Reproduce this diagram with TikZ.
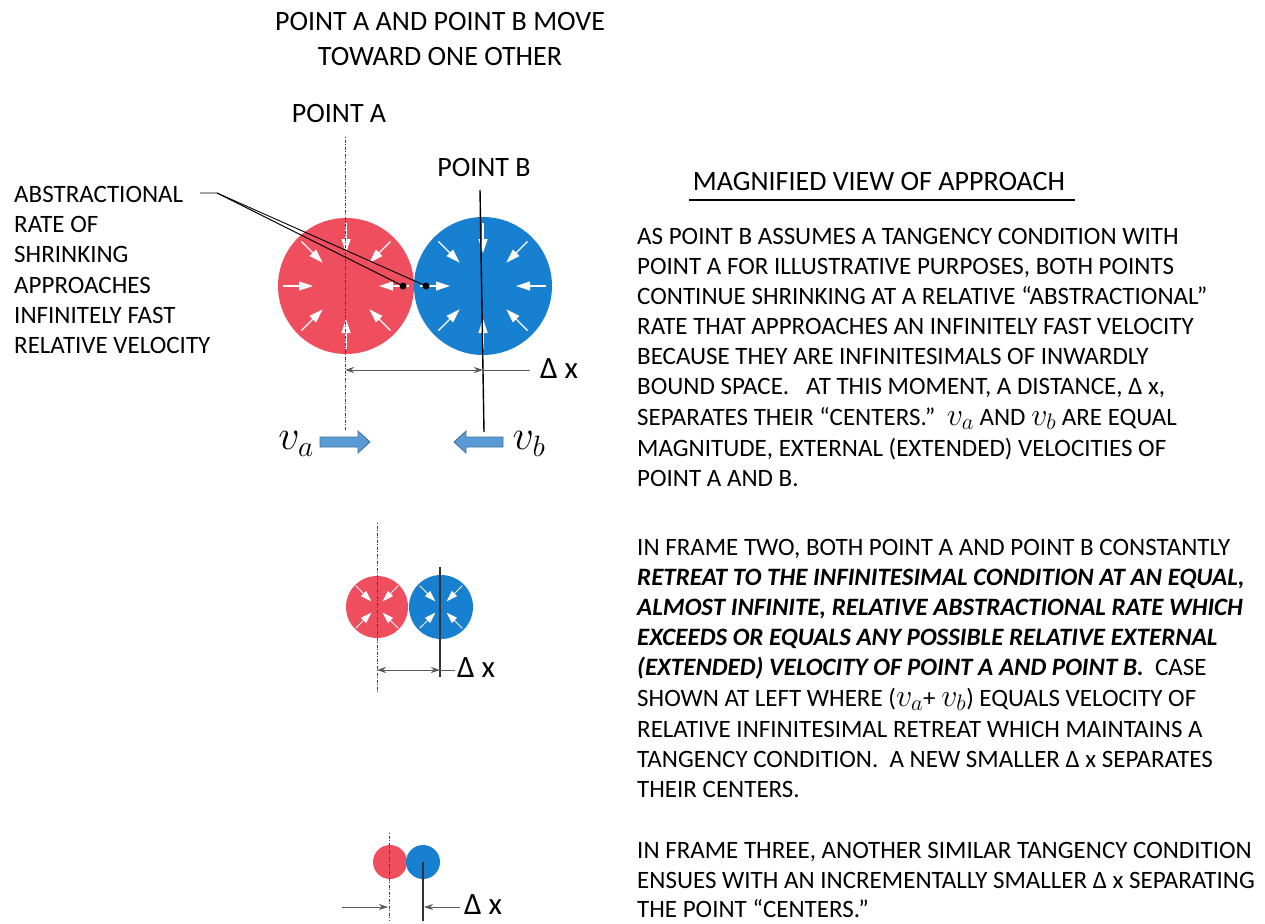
\documentclass[tikz,border=0pt]{standalone}
\usepackage{fix-cm}
\usepackage{fontspec}
\setmainfont{Carlito}
\usetikzlibrary{arrows.meta,calc}
\definecolor{ptred}{RGB}{239,78,95}
\definecolor{ptblue}{RGB}{24,128,208}
\definecolor{varrow}{RGB}{91,155,213}
\definecolor{varrowline}{RGB}{65,113,156}
\definecolor{dimgray}{RGB}{90,90,90}
\newcommand{\bm}[1]{{\fontsize{32}{28}\selectfont$#1$}}
\tikzset{
  txt/.style={anchor=base west, inner sep=0pt, font=\fontsize{25}{28}\selectfont},
  ctxt/.style={anchor=base, inner sep=0pt, font=\fontsize{28}{32}\selectfont},
  disk/.style={circle, inner sep=0pt, draw=none, minimum size=#1},
  inarrow/.style={white, line width=1.2pt, -{Triangle[width=9pt,length=14pt]}},
  smallinarrow/.style={white, line width=1pt, -{Triangle[width=7pt,length=11pt]}},
  dotline/.style={line width=0.7pt, black!75, dash pattern=on 1pt off 1.5pt on 3pt off 1.5pt},
  pointline/.style={line width=1.4pt, black},
  dimline/.style={line width=1pt, dimgray},
  dimarrows/.style={dimline, {Stealth[length=9pt,width=6pt]}-{Stealth[length=9pt,width=6pt]}},
  vel/.style={draw=varrowline, fill=varrow, line width=0.8pt, line join=miter},
  leader/.style={line width=0.9pt, black},
  bigmath/.style={inner sep=0pt, font=\fontsize{42}{44}\selectfont},
  dx/.style={anchor=west, inner sep=0pt, font=\fontsize{31}{34}\selectfont},
}
\begin{document}
\begin{tikzpicture}[x=1pt,y=-1pt]
\useasboundingbox (0,0) rectangle (1265,923);
\fill[white] (0,0) rectangle (1265,923);

% ---------- title ----------
\node[ctxt] (title1) at (440,31) {POINT A AND POINT B MOVE};
\node[ctxt] (title2) at (440,66) {TOWARD ONE OTHER};
\node[ctxt] (pA) at (339,123) {POINT A};
\node[ctxt] (pB) at (484,176) {POINT B};

% ---------- frame one ----------
\coordinate (dotTop) at (345,137);
\coordinate (dotBot) at (345,430);
\node[disk=136pt, fill=ptred] (ra) at (346,286) {};
\node[disk=138pt, fill=ptblue] (ba) at (483,286) {};
\foreach \a in {0,45,...,315}{
  \draw[inarrow] ([shift={(\a:63)}]ra.center) -- ([shift={(\a:33)}]ra.center);
  \draw[inarrow] ([shift={(\a:63)}]ba.center) -- ([shift={(\a:33)}]ba.center);
}
\draw[dotline] (dotTop) -- (dotBot);
\coordinate (bTop) at (480,190);
\coordinate (bBot) at (484,432);
\draw[pointline] (bTop) -- (bBot);

% dots and leader
\node[circle, fill=black, inner sep=0pt, minimum size=7pt] (dA) at (403,286) {};
\node[circle, fill=black, inner sep=0pt, minimum size=7pt] (dB) at (426,286) {};
\coordinate (ld0) at (200,193);
\coordinate (ld1) at (217,193);
\draw[leader] (ld0) -- (ld1) -- (dA.center);
\draw[leader] (ld1) -- (dB.center);

% left label
\node[txt] (l1) at (14,202) {ABSTRACTIONAL};
\node[txt] (l2) at (14,232) {RATE OF};
\node[txt] (l3) at (14,262) {SHRINKING};
\node[txt] (l4) at (14,293) {APPROACHES};
\node[txt] (l5) at (14,323) {INFINITELY FAST};
\node[txt] (l6) at (14,353) {RELATIVE VELOCITY};

% delta x
\coordinate (dxA) at (345,370);
\coordinate (dxB) at (483,370);
\coordinate (dxE) at (530,370);
\draw[dimarrows] (dxA) -- (dxB);
\draw[dimline] (dxB) -- (dxE);
\node[dx] (dx1) at (540,369) {Δ x};

% velocities (block arrows)
\coordinate (va) at (345,442);
\coordinate (vb) at (478,442);
\draw[vel] (320,437) -- (358,437) -- (358,431) -- (370,442) -- (358,453) -- (358,447) -- (320,447) -- cycle;
\draw[vel] (503,437) -- (466,437) -- (466,431) -- (454,442) -- (466,453) -- (466,447) -- (503,447) -- cycle;
\node[bigmath] (vaL) at (296,444) {$v_a$};
\node[bigmath] (vbL) at (529,444) {$v_b$};

% ---------- frame two ----------
\node[disk=62pt, fill=ptred] (r2) at (377,607) {};
\node[disk=64pt, fill=ptblue] (b2) at (441,607) {};
\foreach \a in {45,135,225,315}{
  \draw[smallinarrow] ([shift={(\a:30)}]r2.center) -- ([shift={(\a:8)}]r2.center);
  \draw[smallinarrow] ([shift={(\a:30)}]b2.center) -- ([shift={(\a:8)}]b2.center);
}
\coordinate (d2Top) at (377,523);
\coordinate (d2Bot) at (377,692);
\draw[dotline] (d2Top) -- (d2Bot);
\coordinate (b2Top) at (440,567);
\coordinate (b2Bot) at (440,677);
\draw[line width=1.2pt, black!80] (b2Top) -- (b2Bot);
\coordinate (dx2A) at (377,670);
\coordinate (dx2B) at (440,670);
\coordinate (dx2E) at (455,670);
\draw[dimarrows] (dx2A) -- (dx2B);
\draw[dimline] (dx2B) -- (dx2E);
\node[dx] (dx2) at (457,668) {Δ x};

% ---------- frame three ----------
\node[disk=34pt, fill=ptred] (r3) at (390,862) {};
\node[disk=34pt, fill=ptblue] (b3) at (423,862) {};
\coordinate (d3Top) at (389,833);
\coordinate (d3Bot) at (389,921);
\draw[dotline] (d3Top) -- (d3Bot);
\coordinate (b3Bot) at (423,921);
\draw[line width=1.2pt, black!80] (b3.center) -- (b3Bot);
\coordinate (a3L) at (342,907);
\coordinate (a3Lt) at (388,907);
\coordinate (a3R) at (460,907);
\coordinate (a3Rt) at (424,907);
\draw[dimline, -{Stealth[length=9pt,width=6pt]}] (a3L) -- (a3Lt);
\draw[dimline, -{Stealth[length=9pt,width=6pt]}] (a3R) -- (a3Rt);
\node[dx] (dx3) at (464,905) {Δ x};

% ---------- right text ----------
\node[ctxt] (mag) at (879,190) {MAGNIFIED VIEW OF APPROACH};
\coordinate (u1) at (689,200);
\coordinate (u2) at (1075,200);
\draw[line width=1.1pt] (u1) -- (u2);

\node[txt] (p1a) at (637,244) {AS POINT B ASSUMES A TANGENCY CONDITION WITH};
\node[txt] (p1b) at (637,274) {POINT A FOR ILLUSTRATIVE PURPOSES, BOTH POINTS};
\node[txt] (p1c) at (637,304) {CONTINUE SHRINKING AT A RELATIVE “ABSTRACTIONAL”};
\node[txt] (p1d) at (637,334) {RATE THAT APPROACHES AN INFINITELY FAST VELOCITY};
\node[txt] (p1e) at (637,364) {BECAUSE THEY ARE INFINITESIMALS OF INWARDLY};
\node[txt] (p1f) at (637,394) {BOUND SPACE. \ \ AT THIS MOMENT, A DISTANCE, Δ x,};
\node[txt] (p1g) at (637,425) {SEPARATES THEIR “CENTERS.” \ \bm{v_a} AND \bm{v_b} ARE EQUAL};
\node[txt] (p1h) at (637,456) {MAGNITUDE, EXTERNAL (EXTENDED) VELOCITIES OF};
\node[txt] (p1i) at (637,486) {POINT A AND B.};

\node[txt] (p2a) at (637,555) {IN FRAME TWO, BOTH POINT A AND POINT B CONSTANTLY};
\node[txt] (p2b) at (637,585) {\bfseries\itshape RETREAT TO THE INFINITESIMAL CONDITION AT AN EQUAL,};
\node[txt] (p2c) at (637,615) {\bfseries\itshape ALMOST INFINITE, RELATIVE ABSTRACTIONAL RATE WHICH};
\node[txt] (p2d) at (637,645) {\bfseries\itshape EXCEEDS OR EQUALS ANY POSSIBLE RELATIVE EXTERNAL};
\node[txt] (p2e) at (637,675) {{\bfseries\itshape (EXTENDED) VELOCITY OF POINT A AND POINT B.} \ CASE};
\node[txt] (p2f) at (637,706) {SHOWN AT LEFT WHERE (\bm{v_a}+ \bm{v_b}) EQUALS VELOCITY OF};
\node[txt] (p2g) at (637,737) {RELATIVE INFINITESIMAL RETREAT WHICH MAINTAINS A};
\node[txt] (p2h) at (637,767) {TANGENCY CONDITION. \ A NEW SMALLER Δ x SEPARATES};
\node[txt] (p2i) at (637,797) {THEIR CENTERS.};

\node[txt] (p3a) at (637,858) {IN FRAME THREE, ANOTHER SIMILAR TANGENCY CONDITION};
\node[txt] (p3b) at (637,888) {ENSUES WITH AN INCREMENTALLY SMALLER Δ x SEPARATING};
\node[txt] (p3c) at (637,917) {THE POINT “CENTERS.”};
\end{tikzpicture}
\end{document}
